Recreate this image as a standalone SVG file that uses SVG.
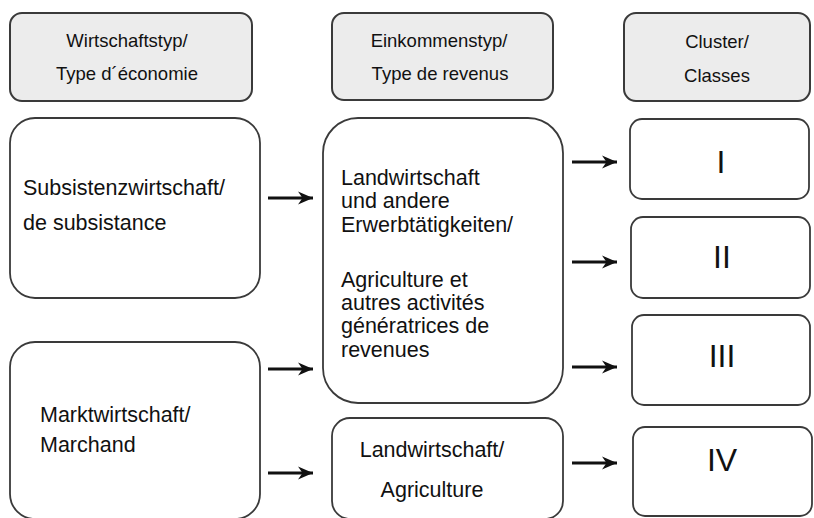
<svg xmlns="http://www.w3.org/2000/svg" width="814" height="518" viewBox="0 0 814 518">
<defs>
<marker id="ah" markerUnits="userSpaceOnUse" markerWidth="16" markerHeight="14" refX="15" refY="7" orient="auto">
<path d="M0,0.5 L15,7 L0,13.5 L4.5,7 z" fill="#111"/>
</marker>
</defs>
<style>
.hdr{fill:#ececec;stroke:#3a3a3a;stroke-width:2}
.box{fill:#fff;stroke:#3a3a3a;stroke-width:1.8}
text{font-family:"Liberation Sans",Arial,sans-serif;fill:#111}
.h{font-size:18.5px;text-anchor:middle}
.b{font-size:21.5px}
.c{font-size:21.5px;text-anchor:middle}
.r{font-size:32px;text-anchor:middle}
.arr{stroke:#111;stroke-width:2.8;fill:none;marker-end:url(#ah)}
</style>
<rect width="814" height="518" fill="#fff"/>
<g id="hdr-wirtschaft">
<rect class="hdr" x="10" y="13" width="242" height="88" rx="12"/>
<text class="h" x="127" y="47">Wirtschaftstyp/</text>
<text class="h" x="127" y="80">Type d´économie</text>
</g>
<g id="hdr-einkommen">
<rect class="hdr" x="332" y="13" width="221" height="87" rx="12"/>
<text class="h" x="439" y="47">Einkommenstyp/</text>
<text class="h" x="440" y="80">Type de revenus</text>
</g>
<g id="hdr-cluster">
<rect class="hdr" x="624" y="13" width="186" height="88" rx="12"/>
<text class="h" x="717" y="48">Cluster/</text>
<text class="h" x="717" y="82">Classes</text>
</g>
<g id="subsistenz">
<rect class="box" x="10" y="118" width="250" height="180" rx="25"/>
<text class="b" x="23" y="195">Subsistenzwirtschaft/</text>
<text class="b" x="23" y="230">de subsistance</text>
</g>
<g id="markt">
<rect class="box" x="10" y="342" width="250" height="177" rx="25"/>
<text class="b" x="40" y="422">Marktwirtschaft/</text>
<text class="b" x="40" y="452">Marchand</text>
</g>
<g id="landwirtschaft-andere">
<rect class="box" x="323" y="118" width="240" height="285" rx="35"/>
<text class="b" x="341" y="185"> Landwirtschaft</text>
<text class="b" x="341" y="208">und andere</text>
<text class="b" x="341" y="232">Erwerbtätigkeiten/</text>
<text class="b" x="341" y="287">Agriculture et</text>
<text class="b" x="341" y="310">autres activités</text>
<text class="b" x="341" y="333">génératrices de</text>
<text class="b" x="341" y="357">revenues</text>
</g>
<g id="landwirtschaft">
<rect class="box" x="332" y="418" width="231" height="101" rx="18"/>
<text class="c" x="432" y="457">Landwirtschaft/</text>
<text class="c" x="432" y="497">Agriculture</text>
</g>
<g id="cluster-1">
<rect class="box" x="630" y="119" width="179" height="80" rx="12"/>
<text class="r" x="721" y="173">I</text>
</g>
<g id="cluster-2">
<rect class="box" x="631" y="217" width="179" height="81" rx="12"/>
<text class="r" x="722" y="268">II</text>
</g>
<g id="cluster-3">
<rect class="box" x="632" y="315" width="178" height="90" rx="12"/>
<text class="r" x="722" y="367">III</text>
</g>
<g id="cluster-4">
<rect class="box" x="633" y="427" width="179" height="89" rx="12"/>
<text class="r" x="722" y="471">IV</text>
</g>
<g id="connectors">
<line class="arr" x1="268" y1="198" x2="313" y2="198"/>
<line class="arr" x1="268" y1="369" x2="313" y2="369"/>
<line class="arr" x1="268" y1="473" x2="313" y2="473"/>
<line class="arr" x1="572" y1="162" x2="617" y2="162"/>
<line class="arr" x1="572" y1="262" x2="617" y2="262"/>
<line class="arr" x1="572" y1="367" x2="617" y2="367"/>
<line class="arr" x1="572" y1="463" x2="617" y2="463"/>
</g>
</svg>
